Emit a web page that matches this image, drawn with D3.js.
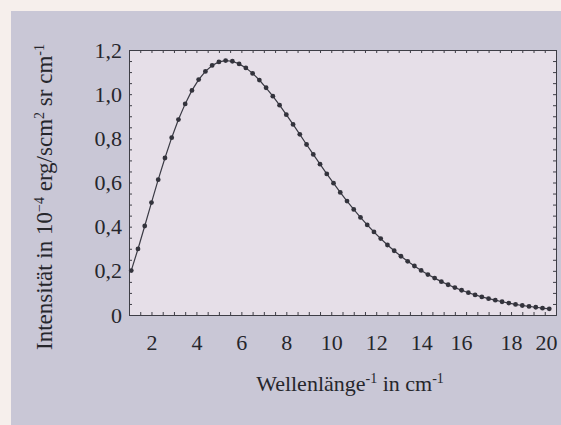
<!DOCTYPE html>
<html>
<head>
<meta charset="utf-8">
<script src="https://cdn.jsdelivr.net/npm/d3@7"></script>
<style>
  body { margin: 0; background: #f6efec; }
  svg { display: block; }
  text { font-family: "Liberation Serif", "DejaVu Serif", serif; fill: #26262c; }
</style>
</head>
<body>
<svg id="chart" width="561" height="425"></svg>
<script>
// wavenumber in cm^-1
var waveNumbers = [1.1, 1.4, 1.7, 2.0, 2.3, 2.6, 2.9, 3.2, 3.5, 3.8, 4.1, 4.4, 4.7, 5.0, 5.3, 5.6, 5.9,
  6.2, 6.5, 6.8, 7.1, 7.4, 7.7, 8.0, 8.3, 8.6, 8.9, 9.2, 9.5, 9.8, 10.1, 10.4, 10.7, 11.0, 11.3,
  11.6, 11.9, 12.2, 12.5, 12.8, 13.1, 13.4, 13.7, 14.0, 14.3, 14.6, 14.9, 15.2, 15.5, 15.8, 16.1,
  16.4, 16.7, 17.0, 17.3, 17.6, 17.9, 18.2, 18.5, 18.8, 19.1, 19.4, 19.7];
// intensity in 10^-4 erg/s cm^2 sr cm^-1
var intensity = [0.201, 0.299, 0.403, 0.509, 0.613, 0.711, 0.803, 0.885, 0.956, 1.017, 1.066, 1.103,
  1.130, 1.146, 1.152, 1.149, 1.137, 1.119, 1.094, 1.064, 1.029, 0.991, 0.950, 0.907, 0.863, 0.818,
  0.772, 0.727, 0.683, 0.639, 0.597, 0.555, 0.516, 0.478, 0.442, 0.408, 0.376, 0.346, 0.317, 0.291,
  0.266, 0.243, 0.222, 0.202, 0.183, 0.167, 0.151, 0.137, 0.124, 0.112, 0.101, 0.091, 0.082, 0.074,
  0.067, 0.060, 0.054, 0.048, 0.043, 0.039, 0.035, 0.031, 0.028];

var xTicks = [2, 4, 6, 8, 10, 12, 14, 16, 18, 20];
var yTicks = [0, 0.2, 0.4, 0.6, 0.8, 1.0, 1.2];

var W = 561, H = 425;
var margin = {top: 50, right: 5, bottom: 110, left: 129};
var w = W - margin.left - margin.right,
    h = H - margin.top - margin.bottom;

var svg = d3.select("#chart");

// scanned panel background
svg.append("rect").attr("x", 11).attr("y", 11).attr("width", W - 11).attr("height", H - 11)
  .attr("fill", "#c9c7d6");

var g = svg.append("g").attr("transform", "translate(" + margin.left + "," + margin.top + ")");

var x = d3.scaleLinear().domain([1, 20]).range([0, w]);
var y = d3.scaleLinear().domain([0, 1.2]).range([h, 0]);

g.append("rect").attr("width", w).attr("height", h).attr("fill", "#e6dfe8");

var fmt = d => d === 0 ? "0" : d3.format(".1f")(d).replace(".", ",");

// minor ticks, inward on all four sides
var minorX = d3.range(1, 20.01, 0.5), minorY = d3.range(0, 1.201, 0.05);
function frame(sel, axis) {
  sel.call(axis);
  sel.select(".domain").attr("stroke", "#3e3e46");
  sel.selectAll(".tick line").attr("stroke", "#3e3e46");
}
frame(g.append("g").attr("transform", "translate(0," + h + ")"),
  d3.axisTop(x).tickValues(minorX).tickSize(3).tickFormat(""));
frame(g.append("g"), d3.axisBottom(x).tickValues(minorX).tickSize(3).tickFormat(""));
frame(g.append("g"), d3.axisRight(y).tickValues(minorY).tickSize(3).tickFormat(""));
frame(g.append("g").attr("transform", "translate(" + w + ",0)"),
  d3.axisLeft(y).tickValues(minorY).tickSize(3).tickFormat(""));

// labelled axes
var xa = g.append("g").attr("transform", "translate(0," + h + ")")
  .call(d3.axisBottom(x).tickValues(xTicks).tickSize(0).tickPadding(19));
xa.select(".domain").remove();
xa.selectAll("text").attr("font-size", 22).attr("font-family", "Liberation Serif");
xa.selectAll(".tick").filter(d => d === 20).select("text").attr("dx", -10);
xa.selectAll(".tick").filter(d => d === 16).select("text").attr("dx", -5);

var ya = g.append("g")
  .call(d3.axisLeft(y).tickValues(yTicks).tickSize(0).tickPadding(7).tickFormat(fmt));
ya.select(".domain").remove();
ya.selectAll("text").attr("font-size", 22).attr("font-family", "Liberation Serif");

// curve and points
var pts = waveNumbers.map((v, i) => [v, intensity[i]]);
g.append("path").datum(pts)
  .attr("fill", "none").attr("stroke", "#3a3a44").attr("stroke-width", 1.2)
  .attr("d", d3.line().x(d => x(d[0])).y(d => y(d[1])));
g.selectAll("circle.pt").data(pts).enter().append("circle")
  .attr("class", "pt")
  .attr("cx", d => x(d[0])).attr("cy", d => y(d[1])).attr("r", 2.4)
  .attr("fill", "#33333c");

// axis titles
var xt = svg.append("text").attr("x", 350).attr("y", 391)
  .attr("text-anchor", "middle").attr("font-size", 22);
xt.append("tspan").text("Wellenlänge");
xt.append("tspan").attr("font-size", 14).attr("dy", -8).text("-1");
xt.append("tspan").attr("dy", 8).text(" in cm");
xt.append("tspan").attr("font-size", 14).attr("dy", -8).text("-1");

var yt = svg.append("text")
  .attr("transform", "translate(52,197) rotate(-90)")
  .attr("text-anchor", "middle").attr("font-size", 23);
yt.append("tspan").text("Intensität in 10");
yt.append("tspan").attr("font-size", 14).attr("dy", -8).text("−4");
yt.append("tspan").attr("dy", 8).text(" erg/scm");
yt.append("tspan").attr("font-size", 14).attr("dy", -8).text("2");
yt.append("tspan").attr("dy", 8).text(" sr cm");
yt.append("tspan").attr("font-size", 14).attr("dy", -8).text("-1");
</script>
</body>
</html>
